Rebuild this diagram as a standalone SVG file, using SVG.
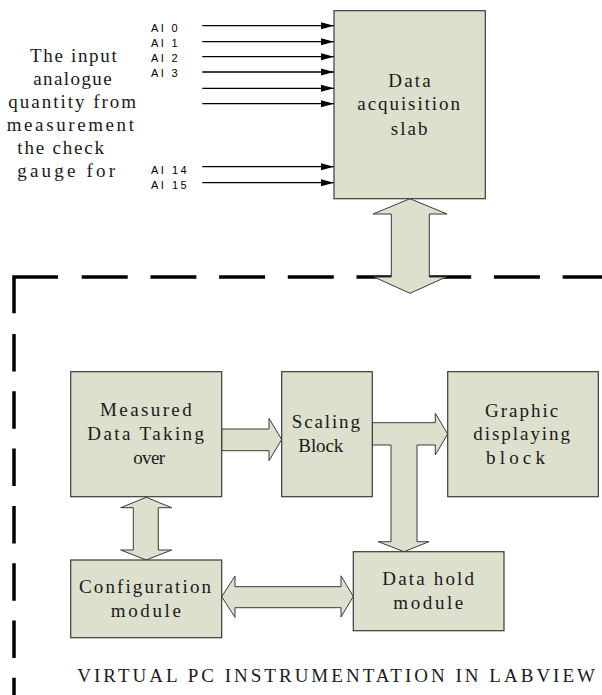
<svg xmlns="http://www.w3.org/2000/svg" width="602" height="695" viewBox="0 0 602 695">
<style>
.box{fill:#dde0cc;stroke:#3a3a3a;stroke-width:1.2}
.blk{fill:#dde0cc;stroke:#3a3a3a;stroke-width:1;stroke-linejoin:miter}
.t{font-family:"Liberation Serif","Times New Roman",serif;font-size:19px;fill:#1a1a1a}
.ai{font-family:"Liberation Sans",Arial,sans-serif;font-size:11px;fill:#000}
.sig{stroke:#000;stroke-width:1.3;fill:none}
.dash{stroke:#000;stroke-width:3.5;fill:none}
</style>
<defs>
<marker id="ah" markerWidth="13" markerHeight="8" refX="13" refY="4" orient="auto" markerUnits="userSpaceOnUse">
<path d="M0,0.5 L13,4 L0,7.5 Z" fill="#000"/>
</marker>
</defs>

<g id="boundary">
<path class="dash" d="M14,313.3 V277 H58"/>
<path class="dash" d="M81.7,277 H602" stroke-dasharray="46 22.7"/>
<path class="dash" d="M14,334 V695" stroke-dasharray="37.5 19.8"/>
</g>

<g id="input-label">
<text class="t" x="30" y="61.7" textLength="86.7" lengthAdjust="spacing">The input</text>
<text class="t" x="33.3" y="84.5" textLength="78.3" lengthAdjust="spacing">analogue</text>
<text class="t" x="8.3" y="107.5" textLength="127.7" lengthAdjust="spacing">quantity from</text>
<text class="t" x="6.7" y="130.7" textLength="127.3" lengthAdjust="spacing">measurement</text>
<text class="t" x="17.3" y="154" textLength="86.7" lengthAdjust="spacing">the check</text>
<text class="t" x="17.3" y="177" textLength="97.7" lengthAdjust="spacing">gauge for</text>
</g>

<g id="connectors">
<line class="sig" x1="202.3" y1="25.7" x2="334" y2="25.7" marker-end="url(#ah)"/>
<line class="sig" x1="202.3" y1="41.7" x2="334" y2="41.7" marker-end="url(#ah)"/>
<line class="sig" x1="202.3" y1="56.7" x2="334" y2="56.7" marker-end="url(#ah)"/>
<line class="sig" x1="202.3" y1="72" x2="334" y2="72" marker-end="url(#ah)"/>
<line class="sig" x1="202.3" y1="88.3" x2="334" y2="88.3" marker-end="url(#ah)"/>
<line class="sig" x1="202.3" y1="103.7" x2="334" y2="103.7" marker-end="url(#ah)"/>
<line class="sig" x1="202.3" y1="166.7" x2="334" y2="166.7" marker-end="url(#ah)"/>
<line class="sig" x1="202.3" y1="182.7" x2="334" y2="182.7" marker-end="url(#ah)"/>
<text class="ai" x="151" y="32" textLength="26.7" lengthAdjust="spacing">AI 0</text>
<text class="ai" x="151" y="46.5" textLength="26.7" lengthAdjust="spacing">AI 1</text>
<text class="ai" x="151" y="62" textLength="26.7" lengthAdjust="spacing">AI 2</text>
<text class="ai" x="151" y="77" textLength="26.7" lengthAdjust="spacing">AI 3</text>
<text class="ai" x="151" y="174" textLength="35.7" lengthAdjust="spacing">AI 14</text>
<text class="ai" x="151" y="189" textLength="35.7" lengthAdjust="spacing">AI 15</text>
<polygon class="blk" points="410,198.7 447,214 429.3,214 429.3,277 446,277 410,293.3 374,277 391.3,277 391.3,214 373,214"/>
<polygon class="blk" points="221.7,429 269,429 269,418.3 281.7,439.5 269,460.7 269,450.7 221.7,450.7"/>
<polygon class="blk" points="372.3,422.7 435.3,422.7 435.3,413.3 447.7,434 435.3,455 435.3,445 417,445 417,541.7 429,541.7 404,551.7 378.3,541.7 391,541.7 391,445 372.3,445"/>
<polygon class="blk" points="146.2,497.3 171.7,507.7 158.3,507.7 158.3,550 171.7,550 146.2,560 120.7,550 133.3,550 133.3,507.7 120.7,507.7"/>
<polygon class="blk" points="221.7,596.7 235,576 235,586.7 341,586.7 341,575.8 353.3,596.5 341,617 341,607.7 235,607.7 235,617.3"/>
</g>

<g id="daq">
<rect class="box" x="334" y="10.7" width="151.3" height="188"/>
<text class="t" x="388.3" y="87.3" textLength="42.3" lengthAdjust="spacing">Data</text>
<text class="t" x="357.3" y="110" textLength="102.7" lengthAdjust="spacing">acquisition</text>
<text class="t" x="390.7" y="135" textLength="36.7" lengthAdjust="spacing">slab</text>
</g>

<g id="measured">
<rect class="box" x="70.7" y="371.7" width="151" height="125"/>
<text class="t" x="100" y="416" textLength="91.7" lengthAdjust="spacing">Measured</text>
<text class="t" x="87.3" y="440" textLength="116.7" lengthAdjust="spacing">Data Taking</text>
<text class="t" x="133.3" y="464" textLength="31.7" lengthAdjust="spacing">over</text>
</g>

<g id="scaling">
<rect class="box" x="281.7" y="371.7" width="90.6" height="125"/>
<text class="t" x="291.7" y="428.3" textLength="68.3" lengthAdjust="spacing">Scaling</text>
<text class="t" x="298.3" y="451.7" textLength="45" lengthAdjust="spacing">Block</text>
</g>

<g id="graphic">
<rect class="box" x="447.7" y="371.7" width="150.6" height="125"/>
<text class="t" x="485" y="416.7" textLength="73.3" lengthAdjust="spacing">Graphic</text>
<text class="t" x="473.3" y="440" textLength="96.7" lengthAdjust="spacing">displaying</text>
<text class="t" x="486" y="464" textLength="59" lengthAdjust="spacing">block</text>
</g>

<g id="config">
<rect class="box" x="70.7" y="560" width="151" height="77.7"/>
<text class="t" x="79" y="593.3" textLength="132" lengthAdjust="spacing">Configuration</text>
<text class="t" x="110.7" y="616.7" textLength="70.3" lengthAdjust="spacing">module</text>
</g>

<g id="datahold">
<rect class="box" x="353.3" y="551.7" width="150.7" height="79"/>
<text class="t" x="382.3" y="585" textLength="91.7" lengthAdjust="spacing">Data hold</text>
<text class="t" x="393.3" y="609.3" textLength="70" lengthAdjust="spacing">module</text>
</g>

<g id="caption">
<text class="t" x="77.3" y="681.7" textLength="517.7" lengthAdjust="spacing">VIRTUAL PC INSTRUMENTATION IN LABVIEW</text>
</g>
</svg>
